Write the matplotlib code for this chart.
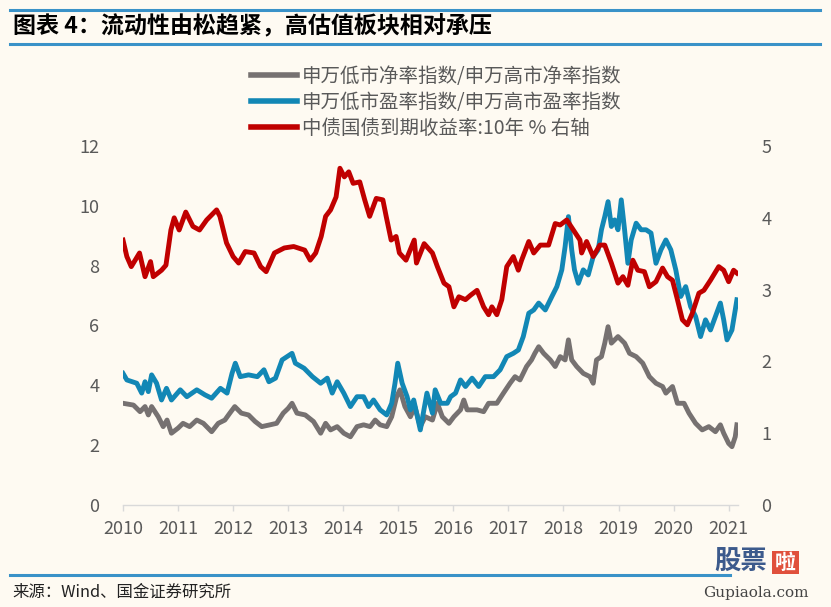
import matplotlib
matplotlib.use("Agg")
import matplotlib.pyplot as plt
from matplotlib.lines import Line2D
from matplotlib.patches import Rectangle

plt.rcParams['font.family'] = ['Noto Sans CJK SC', 'DejaVu Sans']

# ---------------- data ----------------
# 中债国债到期收益率:10年 (右轴)
red_x = [2010.0, 2010.07, 2010.15, 2010.3, 2010.4, 2010.5, 2010.55, 2010.7, 2010.78, 2010.87,
         2010.93, 2011.02, 2011.14, 2011.27, 2011.39, 2011.52, 2011.7, 2011.76, 2011.88, 2012.0,
         2012.1, 2012.22, 2012.38, 2012.5, 2012.6, 2012.75, 2012.93, 2013.1, 2013.3, 2013.4,
         2013.5, 2013.6, 2013.68, 2013.77, 2013.87, 2013.94, 2014.02, 2014.1, 2014.18, 2014.3,
         2014.39, 2014.48, 2014.6, 2014.72, 2014.78, 2014.87, 2014.96, 2015.02, 2015.14, 2015.29,
         2015.33, 2015.47, 2015.62, 2015.71, 2015.83, 2015.92, 2016.01, 2016.1, 2016.22, 2016.31,
         2016.43, 2016.55, 2016.64, 2016.7, 2016.79, 2016.88, 2016.97, 2017.09, 2017.18, 2017.24,
         2017.37, 2017.46, 2017.58, 2017.73, 2017.85, 2017.94, 2018.06, 2018.18, 2018.3, 2018.33,
         2018.42, 2018.54, 2018.66, 2018.75, 2018.87, 2018.99, 2019.08, 2019.17, 2019.26, 2019.35,
         2019.47, 2019.56, 2019.68, 2019.8, 2019.89, 2019.98, 2020.07, 2020.16, 2020.25, 2020.34,
         2020.46, 2020.55, 2020.67, 2020.82, 2020.91, 2021.0, 2021.09, 2021.15]
red_y = [3.69, 3.46, 3.32, 3.51, 3.18, 3.39, 3.18, 3.27, 3.34, 3.83,
         4.00, 3.83, 4.08, 3.88, 3.83, 3.97, 4.11, 4.02, 3.65, 3.46,
         3.37, 3.53, 3.51, 3.32, 3.25, 3.51, 3.58, 3.60, 3.55, 3.41,
         3.51, 3.74, 4.02, 4.11, 4.29, 4.69, 4.57, 4.64, 4.48, 4.50,
         4.25, 4.02, 4.27, 4.25, 4.02, 3.69, 3.74, 3.51, 3.41, 3.69,
         3.37, 3.64, 3.51, 3.32, 3.09, 3.04, 2.76, 2.90, 2.86, 2.92,
         2.99, 2.76, 2.65, 2.76, 2.65, 2.86, 3.32, 3.46, 3.27, 3.41,
         3.67, 3.51, 3.62, 3.62, 3.92, 3.90, 3.97, 3.83, 3.69, 3.51,
         3.67, 3.46, 3.62, 3.62, 3.37, 3.09, 3.18, 3.06, 3.41, 3.27,
         3.25, 3.04, 3.11, 3.30, 3.18, 3.13, 2.86, 2.58, 2.51, 2.67,
         2.95, 2.99, 3.13, 3.32, 3.27, 3.11, 3.27, 3.23]

# 申万低市盈率指数/申万高市盈率指数
blue_x = [2010.0, 2010.07, 2010.25, 2010.34, 2010.4, 2010.46, 2010.52, 2010.61, 2010.7, 2010.79,
          2010.88, 2011.04, 2011.16, 2011.34, 2011.49, 2011.61, 2011.77, 2011.89, 2011.98, 2012.04,
          2012.13, 2012.28, 2012.44, 2012.56, 2012.65, 2012.77, 2012.89, 2012.98, 2013.07, 2013.13,
          2013.29, 2013.44, 2013.59, 2013.71, 2013.8, 2013.89, 2014.01, 2014.13, 2014.25, 2014.37,
          2014.46, 2014.55, 2014.67, 2014.79, 2014.88, 2014.94, 2014.99, 2015.07, 2015.16, 2015.22,
          2015.28, 2015.4, 2015.52, 2015.62, 2015.67, 2015.77, 2015.89, 2015.95, 2016.04, 2016.13,
          2016.22, 2016.34, 2016.46, 2016.58, 2016.73, 2016.85, 2016.97, 2017.09, 2017.18, 2017.27,
          2017.37, 2017.46, 2017.55, 2017.67, 2017.79, 2017.88, 2017.97, 2018.03, 2018.09, 2018.15,
          2018.2, 2018.27, 2018.36, 2018.45, 2018.54, 2018.63, 2018.69, 2018.75, 2018.81, 2018.87,
          2018.93, 2018.99, 2019.05, 2019.11, 2019.17, 2019.23, 2019.32, 2019.41, 2019.5, 2019.59,
          2019.68, 2019.77, 2019.86, 2019.95, 2020.04, 2020.13, 2020.22, 2020.31, 2020.4, 2020.49,
          2020.58, 2020.67, 2020.76, 2020.85, 2020.91, 2020.97, 2021.06, 2021.12, 2021.15]
blue_y = [4.40, 4.18, 4.07, 3.74, 4.12, 3.79, 4.35, 4.07, 3.51, 3.90,
          3.51, 3.85, 3.62, 3.85, 3.68, 3.57, 3.90, 3.74, 4.40, 4.74,
          4.29, 4.35, 4.29, 4.52, 4.12, 4.24, 4.85, 4.96, 5.07, 4.74,
          4.57, 4.29, 4.07, 4.24, 3.74, 4.12, 3.74, 3.29, 3.62, 3.62,
          3.29, 3.51, 3.18, 3.01, 3.40, 4.07, 4.74, 4.07, 3.62, 3.18,
          3.51, 2.51, 3.74, 3.07, 3.85, 3.40, 3.40, 3.62, 3.74, 4.18,
          3.96, 4.24, 3.96, 4.29, 4.29, 4.52, 4.96, 5.07, 5.18, 5.63,
          6.41, 6.52, 6.75, 6.52, 6.97, 7.30, 7.86, 8.64, 9.64, 8.53,
          7.86, 7.41, 7.86, 7.69, 8.30, 8.53, 9.20, 9.64, 10.14, 9.31,
          9.53, 9.20, 10.20, 9.20, 8.08, 8.86, 9.42, 9.20, 9.20, 9.09,
          8.08, 8.53, 8.86, 8.53, 7.86, 6.97, 7.30, 6.63, 6.30, 5.63,
          6.19, 5.85, 6.30, 6.75, 6.19, 5.52, 5.85, 6.52, 6.86]

# 申万低市净率指数/申万高市净率指数
gray_x = [2010.0, 2010.19, 2010.31, 2010.4, 2010.46, 2010.52, 2010.64, 2010.73, 2010.8, 2010.88,
          2011.0, 2011.09, 2011.21, 2011.34, 2011.46, 2011.61, 2011.73, 2011.85, 2011.94, 2012.03,
          2012.15, 2012.28, 2012.4, 2012.52, 2012.67, 2012.79, 2012.91, 2013.0, 2013.07, 2013.16,
          2013.31, 2013.46, 2013.59, 2013.68, 2013.77, 2013.89, 2014.01, 2014.13, 2014.25, 2014.37,
          2014.49, 2014.58, 2014.67, 2014.79, 2014.88, 2014.97, 2015.03, 2015.12, 2015.22, 2015.3,
          2015.4, 2015.49, 2015.62, 2015.71, 2015.8, 2015.92, 2016.01, 2016.13, 2016.19, 2016.25,
          2016.43, 2016.55, 2016.64, 2016.79, 2016.91, 2017.03, 2017.12, 2017.21, 2017.33, 2017.42,
          2017.48, 2017.55, 2017.64, 2017.76, 2017.85, 2017.94, 2018.03, 2018.09, 2018.15, 2018.24,
          2018.36, 2018.48, 2018.54, 2018.6, 2018.69, 2018.75, 2018.81, 2018.87, 2018.99, 2019.11,
          2019.2, 2019.32, 2019.44, 2019.56, 2019.68, 2019.8, 2019.86, 2019.98, 2020.07, 2020.19,
          2020.28, 2020.4, 2020.52, 2020.64, 2020.76, 2020.85, 2020.91, 2021.0, 2021.06, 2021.12,
          2021.15]
gray_y = [3.40, 3.34, 3.12, 3.29, 3.01, 3.29, 2.95, 2.62, 2.84, 2.40,
          2.57, 2.73, 2.62, 2.84, 2.73, 2.45, 2.73, 2.84, 3.07, 3.29,
          3.07, 3.01, 2.79, 2.62, 2.68, 2.73, 3.07, 3.23, 3.40, 3.07,
          3.01, 2.79, 2.40, 2.73, 2.51, 2.62, 2.40, 2.28, 2.62, 2.68,
          2.62, 2.84, 2.68, 2.62, 2.95, 3.62, 3.85, 3.29, 2.95, 3.29,
          2.62, 2.95, 2.84, 3.40, 2.95, 2.73, 2.95, 3.18, 3.51, 3.18,
          3.18, 3.12, 3.40, 3.40, 3.74, 4.07, 4.29, 4.18, 4.63, 4.85,
          5.07, 5.29, 5.07, 4.85, 4.63, 4.96, 4.85, 5.52, 4.85, 4.63,
          4.40, 4.29, 4.07, 4.85, 4.96, 5.41, 5.96, 5.41, 5.63, 5.41,
          5.07, 4.96, 4.74, 4.29, 4.07, 3.96, 3.74, 3.96, 3.40, 3.40,
          3.07, 2.73, 2.51, 2.62, 2.45, 2.68, 2.40, 2.06, 1.95, 2.28,
          2.68]

years = list(range(2010, 2022))
left_ticks = [0, 2, 4, 6, 8, 10, 12]
right_ticks = [0, 1, 2, 3, 4, 5]

labels = ["申万低市净率指数/申万高市净率指数",
          "申万低市盈率指数/申万高市盈率指数",
          "中债国债到期收益率:10年 % 右轴"]

bg = "#FEFAF2"
c_gray = "#767171"
c_blue = "#1287B5"
c_red = "#C00000"
c_text = "#595959"
c_rule = "#3A92C8"

# ---------------- figure ----------------
fig = plt.figure(figsize=(8.31, 6.07), dpi=100, facecolor=bg)
W, H = 831, 607
ax = fig.add_axes([123 / W, 1 - 505 / H, (738 - 123) / W, (505 - 146) / H])
ax.set_facecolor(bg)
ax2 = ax.twinx()

lw = 3.5
ax.plot(gray_x, gray_y, color=c_gray, lw=lw, solid_joinstyle="round")
ax.plot(blue_x, blue_y, color=c_blue, lw=lw, solid_joinstyle="round")
ax2.plot(red_x, red_y, color=c_red, lw=lw, solid_joinstyle="round")

ax.set_xlim(2010, 2021.17)
ax.set_ylim(0, 12)
ax2.set_ylim(0, 5)
ax.set_xticks(years)
ax.set_xticklabels([str(y) for y in years])
ax.set_yticks(left_ticks)
ax2.set_yticks(right_ticks)

for a in (ax, ax2):
    for s in a.spines.values():
        s.set_visible(False)
ax.spines["bottom"].set_visible(True)
ax.spines["bottom"].set_color("#D9D9D9")
ax.spines["bottom"].set_linewidth(1.0)

ax.tick_params(axis="x", colors="#D9D9D9", length=4, width=1, labelcolor=c_text,
               labelsize=13, pad=7)
ax.tick_params(axis="y", length=0, labelcolor=c_text, labelsize=13, pad=17)
ax2.tick_params(axis="y", length=0, labelcolor=c_text, labelsize=13, pad=17)

# legend
handles = [Line2D([], [], color=c, lw=4) for c in (c_gray, c_blue, c_red)]
fig.legend(handles, labels, loc="upper left", bbox_to_anchor=(243 / W, 1 - 58 / H),
           frameon=False, fontsize=14, labelcolor=c_text, handlelength=2.4,
           handletextpad=0.25, labelspacing=0.25, borderaxespad=0)

# title block
fig.add_artist(Line2D([10 / W, 820 / W], [1 - 10 / H, 1 - 10 / H], color=c_rule, lw=2.2))
fig.add_artist(Line2D([10 / W, 820 / W], [1 - 44 / H, 1 - 44 / H], color=c_rule, lw=2.2))
fig.text(13 / W, 1 - 27 / H, "图表 4：流动性由松趋紧，高估值板块相对承压",
         fontsize=16.6, fontweight="bold", color="black", va="center", ha="left")

# source line
fig.add_artist(Line2D([10 / W, 730 / W], [1 - 575 / H, 1 - 575 / H], color=c_rule, lw=2.2))
fig.text(12 / W, 1 - 592 / H, "来源：Wind、国金证券研究所", fontsize=11.8, color="#222222",
         va="center", ha="left")

# watermark
fig.text(741 / W, 1 - 562 / H, "股票", fontsize=19, fontweight="bold", color="#3C5A8C",
         va="center", ha="center")
fig.add_artist(Rectangle((772 / W, 1 - 574 / H), 27 / W, 23 / H, transform=fig.transFigure,
                         facecolor="#E0503C", edgecolor="none"))
fig.text(785.5 / W, 1 - 562.5 / H, "啦", fontsize=15, fontweight="bold", color="white",
         va="center", ha="center")
fig.text(756 / W, 1 - 593 / H, "Gupiaola.com", fontsize=11, family="DejaVu Serif",
         color="#444444", va="center", ha="center")

fig.savefig("out.png", dpi=100, facecolor=bg)
